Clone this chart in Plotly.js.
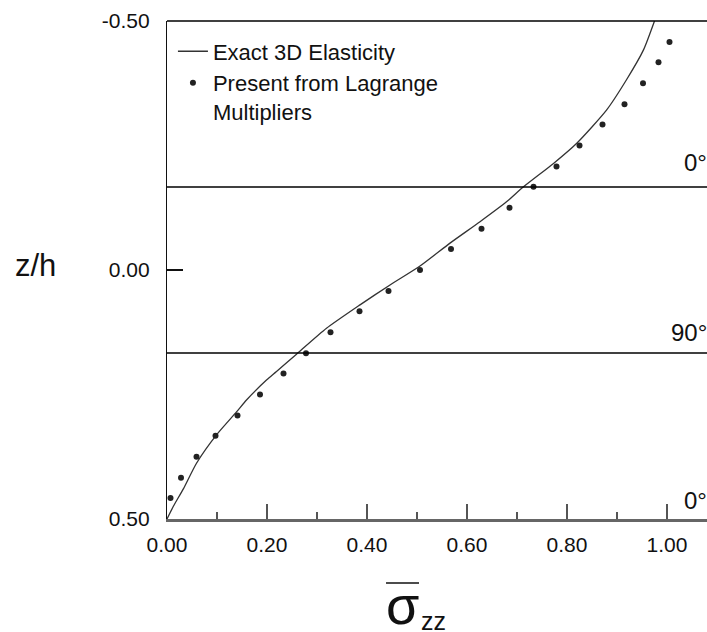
<!DOCTYPE html>
<html>
<head>
<meta charset="utf-8">
<script src="https://cdn.plot.ly/plotly-3.0.1.min.js"></script>
<style>html,body{margin:0;padding:0;background:#fff;}#chart{width:707px;height:632px;}</style>
</head>
<body>
<div id="chart"></div>
<script>
// Exact 3D elasticity curve (sigma_zz bar vs z/h)
const exactSigma = [0.000,0.013,0.033,0.059,0.099,0.139,0.159,0.199,0.219,0.259,0.319,0.386,0.446,0.506,0.566,0.626,0.679,0.713,0.773,0.819,0.879,0.919,0.953,0.975];
const exactZ     = [0.500,0.474,0.439,0.388,0.331,0.285,0.261,0.221,0.204,0.169,0.117,0.070,0.030,-0.008,-0.054,-0.097,-0.137,-0.167,-0.214,-0.254,-0.321,-0.382,-0.442,-0.500];
// Present results from Lagrange multipliers
const presentZ     = [-0.458,-0.417,-0.375,-0.333,-0.292,-0.250,-0.208,-0.167,-0.125,-0.083,-0.042,0.000,0.042,0.083,0.125,0.167,0.208,0.250,0.292,0.333,0.375,0.417,0.458];
const presentSigma = [1.005,0.983,0.952,0.915,0.871,0.825,0.779,0.733,0.685,0.629,0.568,0.506,0.443,0.385,0.327,0.278,0.233,0.186,0.141,0.097,0.059,0.028,0.007];
// Ply interfaces and ply labels
const plyInterfaces = [-1/6, 1/6];
const plyLabels = ['0°', '90°', '0°'];
const xTickVals = [0, 0.2, 0.4, 0.6, 0.8, 1.0];
const yTickVals = [-0.5, 0, 0.5];

const FONT = 'Arial, "Liberation Sans", sans-serif';

const traces = [
  {x: exactSigma, y: exactZ, mode: 'lines', name: 'Exact 3D Elasticity',
   line: {color: '#333', width: 1.3, shape: 'spline', smoothing: 0.6}, cliponaxis: false},
  {x: presentSigma, y: presentZ, mode: 'markers', name: 'Present from Lagrange<br>Multipliers',
   marker: {color: '#222', size: 6}}
];

const shapes = plyInterfaces.map(z => ({type: 'line', xref: 'paper', x0: 0, x1: 1, yref: 'y', y0: z, y1: z,
  line: {color: '#000', width: 1.3}}));
shapes.push({type: 'line', xref: 'paper', yref: 'paper', x0: 0, x1: 1, y0: 1, y1: 1, line: {color: '#000', width: 1.3}});
// overline of sigma
shapes.push({type: 'line', xref: 'paper', yref: 'paper', x0: 0.4056, x1: 0.4667, y0: -0.1285, y1: -0.1285, line: {color: '#111', width: 1.5}});

const labelY = [-0.215, 0.125, 0.462];
const annotations = plyLabels.map((t, i) => ({text: t, xref: 'paper', x: 1.003, xanchor: 'right', yref: 'y', y: labelY[i], yanchor: 'middle',
  showarrow: false, font: {family: FONT, size: 24, color: '#111'}}));
annotations.push({text: 'z/h', xref: 'paper', yref: 'paper', x: -0.2426, y: 0.51, xanchor: 'center', yanchor: 'middle', showarrow: false,
  font: {family: FONT, size: 31, color: '#111'}});
annotations.push({text: 'σ', xref: 'paper', yref: 'paper', x: 0.437, y: -0.173, xanchor: 'center', yanchor: 'middle', showarrow: false,
  font: {family: FONT, size: 54, color: '#111'}});
annotations.push({text: 'zz', xref: 'paper', yref: 'paper', x: 0.4926, y: -0.205, xanchor: 'center', yanchor: 'middle', showarrow: false,
  font: {family: FONT, size: 25, color: '#111'}});

const layout = {
  width: 707, height: 632,
  margin: {l: 167, r: 0, t: 21, b: 113},
  paper_bgcolor: '#fff', plot_bgcolor: '#fff',
  font: {family: FONT, color: '#111', size: 21},
  showlegend: true,
  legend: {x: 0.011, y: 0.981, xanchor: 'left', yanchor: 'top', bgcolor: 'rgba(0,0,0,0)', borderwidth: 0, valign: 'top',
    font: {family: FONT, size: 22, color: '#111'}, itemwidth: 30, tracegroupgap: 0},
  xaxis: {range: [0, 1.08], tickvals: xTickVals, ticktext: xTickVals.map(v => v.toFixed(2)), ticks: 'inside', ticklen: 15, tickwidth: 1.3, tickcolor: '#555',
    showline: true, linecolor: '#666', linewidth: 2.5, showgrid: false, zeroline: false, ticklabelstandoff: 5,
    minor: {dtick: 0.1, tick0: 0, ticks: 'inside', ticklen: 7, tickwidth: 1.2, tickcolor: '#555', showgrid: false},
    tickfont: {family: FONT, size: 21, color: '#111'}},
  yaxis: {range: [0.5, -0.5], tickvals: yTickVals, ticktext: yTickVals.map(v => v.toFixed(2)), ticks: 'inside', ticklen: 16, tickwidth: 1.2, tickcolor: '#111',
    showline: true, linecolor: '#111', linewidth: 1.2, showgrid: false, zeroline: false, ticklabelstandoff: 12,
    tickfont: {family: FONT, size: 21, color: '#111'}},
  shapes: shapes,
  annotations: annotations
};

Plotly.newPlot('chart', traces, layout, {displayModeBar: false, staticPlot: true});
</script>
</body>
</html>
